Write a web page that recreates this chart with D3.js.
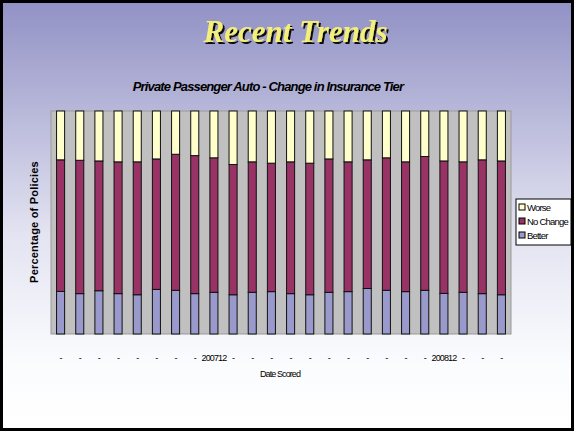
<!DOCTYPE html>
<html>
<head>
<meta charset="utf-8">
<script src="https://cdn.jsdelivr.net/npm/d3@7"></script>
<style>
  body { margin: 0; background: #fff; }
  svg { display: block; }
</style>
</head>
<body>
<div id="chart"></div>
<script>
// values (percent of policies per month)
var dates = ["200704","200705","200706","200707","200708","200709","200710","200711","200712",
             "200801","200802","200803","200804","200805","200806","200807","200808","200809",
             "200810","200811","200812","200901","200902","200903"];
var tickLabels = dates.map(d => (d == "200712" || d == "200812") ? d : "-");
var better   = [19.1,18.1,19.4,18.1,17.6,20.0,19.6,18.1,18.7,17.6,18.7,19.0,18.1,17.6,18.7,19.0,20.4,19.6,19.0,19.6,18.2,18.7,18.1,17.6];
var noChange = [59.0,59.8,58.2,59.1,59.6,58.5,61.0,61.9,60.3,58.4,58.5,57.6,59.1,59.0,59.8,58.2,57.7,59.4,58.2,60.0,59.4,58.5,60.0,60.0];
var worse    = [21.9,22.1,22.4,22.8,22.8,21.5,19.4,20.0,21.0,24.0,22.8,23.4,22.8,23.4,21.5,22.8,21.9,21.0,22.8,20.4,22.4,22.8,21.9,22.4];
var seriesNames = ["Better", "No Change", "Worse"];
var seriesColors = ["#9999cc", "#993366", "#ffffcc"];

var width = 574, height = 431;
var svg = d3.select("#chart").append("svg")
    .attr("width", width)
    .attr("height", height);

var defs = svg.append("defs");
var grad = defs.append("linearGradient")
    .attr("id", "bg").attr("x1", 0).attr("y1", 0).attr("x2", 0).attr("y2", 1);
grad.append("stop").attr("offset", "0").attr("stop-color", "#9191c5");
grad.append("stop").attr("offset", "0.55").attr("stop-color", "#e4e4f2");
grad.append("stop").attr("offset", "0.85").attr("stop-color", "#fbfcfe");
grad.append("stop").attr("offset", "1").attr("stop-color", "#ffffff");

// drop shadow for the big title
var shadow = defs.append("filter").attr("id", "shadow")
    .attr("x", "-10%").attr("y", "-20%").attr("width", "120%").attr("height", "150%");
shadow.append("feDropShadow")
    .attr("dx", 2).attr("dy", 2)
    .attr("stdDeviation", 0.4)
    .attr("flood-color", "#111")
    .attr("flood-opacity", 1);

svg.append("rect")
    .attr("x", 1.5).attr("y", 1.5)
    .attr("width", width - 3).attr("height", height - 3)
    .attr("fill", "url(#bg)")
    .attr("stroke", "#000")
    .attr("stroke-width", 3);

svg.append("text")
    .attr("x", 295.5).attr("y", 41.5)
    .attr("text-anchor", "middle")
    .style("font", "italic bold 31px 'Liberation Serif', serif")
    .attr("fill", "#f3ef78")
    .attr("filter", "url(#shadow)")
    .text("Recent Trends");

svg.append("text")
    .attr("x", 268).attr("y", 91)
    .attr("text-anchor", "middle")
    .style("font", "italic bold 13px 'Liberation Sans', Arial, sans-serif")
    .style("letter-spacing", "-0.85px")
    .text("Private Passenger Auto - Change in Insurance Tier");

var margin = {left: 51, top: 111, right: 511, bottom: 334};

var x = d3.scaleBand()
    .domain(dates)
    .range([margin.left, margin.right])
    .paddingInner(0.58)
    .paddingOuter(0.29);

var y = d3.scaleLinear()
    .domain([0, 100])
    .range([margin.bottom, margin.top]);

// plot area
svg.append("rect")
    .attr("x", margin.left).attr("y", margin.top)
    .attr("width", margin.right - margin.left)
    .attr("height", margin.bottom - margin.top)
    .attr("fill", "#c0c0c0")
    .attr("stroke", "#999")
    .attr("stroke-width", 1);

var table = dates.map((d, i) => ({date: d, "Better": better[i], "No Change": noChange[i], "Worse": worse[i]}));
var stack = d3.stack().keys(seriesNames)(table);

svg.append("g")
    .selectAll("g")
    .data(stack)
    .enter().append("g")
    .attr("fill", (d, i) => seriesColors[i])
    .selectAll("rect")
    .data(d => d)
    .enter().append("rect")
    .attr("x", d => x(d.data.date))
    .attr("y", d => y(d[1]))
    .attr("width", x.bandwidth())
    .attr("height", d => y(d[0]) - y(d[1]))
    .attr("stroke", "#111")
    .attr("stroke-width", 1);

// x axis labels
var xAxis = svg.append("g")
    .attr("transform", "translate(0," + (margin.bottom + 18) + ")")
    .call(d3.axisBottom(x).tickSize(0).tickFormat((d, i) => tickLabels[i]));
xAxis.select(".domain").remove();
xAxis.selectAll("text")
    .attr("fill", "#000")
    .style("font", "9px 'Liberation Sans', Arial, sans-serif")
    .style("letter-spacing", "-0.9px");

svg.append("text")
    .attr("x", 280).attr("y", 377)
    .attr("text-anchor", "middle")
    .style("font", "9px 'Liberation Sans', Arial, sans-serif")
    .style("letter-spacing", "-0.9px")
    .text("Date Scored");

svg.append("text")
    .attr("transform", "translate(38,222) rotate(-90)")
    .attr("text-anchor", "middle")
    .style("font", "bold 11px 'Liberation Sans', Arial, sans-serif")
    .style("letter-spacing", "0.2px")
    .text("Percentage of Policies");

// legend
var legend = svg.append("g").attr("transform", "translate(516,199)");
legend.append("rect")
    .attr("width", 55).attr("height", 46)
    .attr("fill", "#fff")
    .attr("stroke", "#000");
var legendItems = seriesNames.slice().reverse();
var legendColors = seriesColors.slice().reverse();
var item = legend.selectAll(".item")
    .data(legendItems)
    .enter().append("g")
    .attr("transform", (d, i) => "translate(3," + (5 + i * 14) + ")");
item.append("rect")
    .attr("width", 6).attr("height", 6)
    .attr("fill", (d, i) => legendColors[i])
    .attr("stroke", "#000");
item.append("text")
    .attr("x", 8).attr("y", 6.5)
    .style("font", "9.5px 'Liberation Sans', Arial, sans-serif")
    .style("letter-spacing", "-0.8px")
    .text(d => d);
</script>
</body>
</html>
